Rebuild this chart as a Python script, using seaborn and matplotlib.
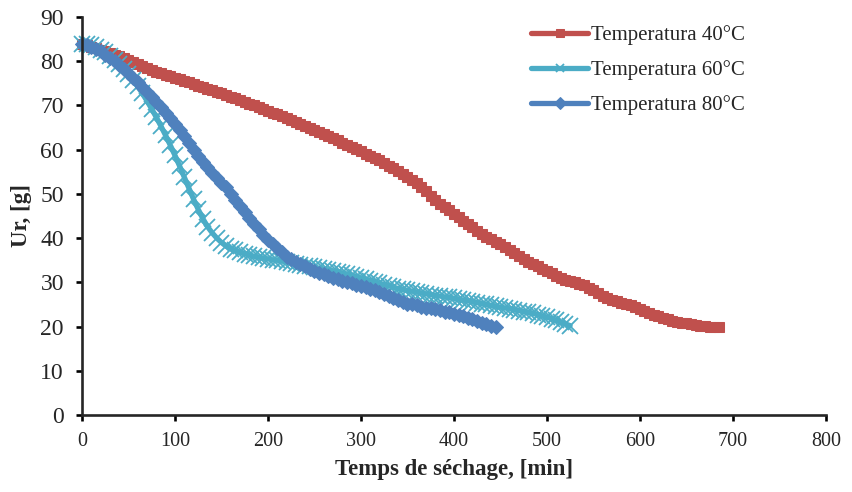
import numpy as np
import pandas as pd
import seaborn as sns
import matplotlib
matplotlib.use("Agg")
import matplotlib.pyplot as plt

# mesures toutes les 5 min
# Temperatura 40°C
t40 = list(range(0, 690, 5))
u40 = [84, 83.7, 83.3, 83.0, 82.6, 82.3, 81.9, 81.5, 81.1, 80.7, 80.3, 79.8, 79.3, 78.9, 78.4, 78.0, 77.6, 77.3, 76.9, 76.6,
       76.2, 75.9, 75.5, 75.2, 74.8, 74.5, 74.1, 73.8, 73.4, 73.1, 72.7, 72.3, 71.9, 71.6, 71.2, 70.8, 70.4, 70.0, 69.6, 69.2,
       68.8, 68.4, 68.0, 67.6, 67.2, 66.8, 66.3, 65.9, 65.4, 65.0, 64.5, 64.1, 63.6, 63.1, 62.6, 62.1, 61.6, 61.1, 60.6, 60.1,
       59.6, 59.1, 58.6, 58.1, 57.6, 57.0, 56.4, 55.8, 55.2, 54.6, 53.9, 53.2, 52.5, 51.6, 50.6, 49.6, 48.6, 47.8, 47.1, 46.3,
       45.5, 44.7, 43.9, 43.1, 42.4, 41.7, 41.0, 40.3, 39.7, 39.2, 38.6, 37.9, 37.3, 36.6, 36.0, 35.3, 34.6, 34.1, 33.6, 33.1,
       32.6, 32.0, 31.4, 31.0, 30.6, 30.4, 30.1, 29.7, 29.3, 28.8, 28.3, 27.6, 27.0, 26.5, 26.0, 25.7, 25.4, 25.1, 24.8, 24.4,
       24.0, 23.5, 23.1, 22.7, 22.3, 21.9, 21.6, 21.3, 21.1, 20.9, 20.7, 20.5, 20.4, 20.2, 20.1, 20.0, 20.0, 20.0]

# Temperatura 60°C
t60 = list(range(0, 530, 5))
u60 = [84, 83.9, 83.6, 83.2, 82.6, 82.0, 81.2, 80.3, 79.3, 78.2, 77.0, 75.7, 74.3, 72.7, 71.0, 69.2, 67.3, 65.3, 63.2, 61.0,
       58.7, 56.3, 53.8, 51.3, 48.8, 46.5, 44.4, 42.6, 41.2, 40.0, 39.0, 38.2, 37.6, 37.2, 36.8, 36.5, 36.2, 35.9, 35.7, 35.5,
       35.3, 35.1, 35.0, 34.8, 34.6, 34.4, 34.2, 34.0, 33.8, 33.6, 33.4, 33.2, 33.0, 32.8, 32.6, 32.4, 32.1, 31.9, 31.6, 31.3,
       31.0, 30.7, 30.4, 30.1, 29.8, 29.5, 29.2, 28.9, 28.6, 28.4, 28.2, 28.0, 27.8, 27.6, 27.4, 27.2, 27.0, 26.9, 26.7, 26.6,
       26.4, 26.2, 26.0, 25.8, 25.6, 25.4, 25.2, 25.0, 24.8, 24.6, 24.4, 24.2, 24.0, 23.8, 23.6, 23.4, 23.2, 23.0, 22.7, 22.4,
       22.1, 21.8, 21.4, 21.0, 20.6, 20.2]

# Temperatura 80°C
t80 = list(range(0, 450, 5))
u80 = [84, 83.7, 83.3, 82.8, 82.2, 81.5, 80.8, 80.0, 79.2, 78.3, 77.3, 76.3, 75.2, 74.1, 73.0, 71.9, 70.7, 69.6, 68.4, 67.2,
       65.9, 64.5, 63.0, 61.5, 60.0, 58.6, 57.2, 56.0, 54.8, 53.6, 52.5, 51.5, 50.0, 48.6, 47.2, 45.8, 44.5, 43.2, 42.0, 40.7,
       39.5, 38.6, 37.8, 36.8, 35.8, 35.2, 34.6, 34.1, 33.6, 33.1, 32.6, 32.2, 31.8, 31.4, 31.0, 30.7, 30.4, 30.1, 29.8, 29.5,
       29.2, 28.9, 28.5, 28.2, 27.8, 27.4, 27.0, 26.5, 26.0, 25.6, 25.2, 25.0, 24.8, 24.5, 24.3, 24.1, 23.9, 23.7, 23.4, 23.2,
       22.9, 22.6, 22.3, 22.0, 21.6, 21.3, 20.9, 20.5, 20.2, 20.0]

labels = ["Temperatura 40°C", "Temperatura 60°C", "Temperatura 80°C"]
colors = ["#C0504D", "#4BACC6", "#4F81BD"]

sns.set_style("ticks")
plt.rcParams['font.family'] = ['Liberation Serif', 'DejaVu Serif']

fig = plt.figure(figsize=(8.53, 4.92), dpi=100)
ax = fig.add_axes([0.0961, 0.1565, 0.872, 0.809])

sns.lineplot(x=t40, y=u40, ax=ax, color=colors[0], lw=3.8, marker='s', markersize=7,
             markeredgecolor=colors[0], label=labels[0], clip_on=False)
sns.lineplot(x=t60, y=u60, ax=ax, color=colors[1], lw=3.8, marker='x', markersize=11,
             markeredgewidth=1.3, markeredgecolor=colors[1], label=labels[1], clip_on=False)
sns.lineplot(x=t80, y=u80, ax=ax, color=colors[2], lw=3.8, marker='D', markersize=7.5,
             markeredgecolor=colors[2], label=labels[2], clip_on=False)

ax.set_xlim(0, 800)
ax.set_ylim(0, 90)
ax.set_xticks(np.arange(0, 801, 100))
ax.set_yticks(np.arange(0, 91, 10))
sns.despine(ax=ax)
for s in ['left', 'bottom']:
    ax.spines[s].set_linewidth(1.9)
ax.tick_params(axis='both', direction='out', length=4, width=1.9, color='black')
ax.tick_params(axis='y', labelsize=17, pad=9)
ax.tick_params(axis='x', labelsize=14.5, pad=8)

ax.set_xlabel("Temps de séchage, [min]", fontsize=16.5, fontweight='bold', labelpad=6)
ax.set_ylabel("Ur, [g]", fontsize=16.5, fontweight='bold', labelpad=6)

leg = ax.legend(loc='upper left', bbox_to_anchor=(0.593, 1.0), frameon=False, fontsize=15,
                handlelength=2.7, handletextpad=0.15, labelspacing=0.72, borderaxespad=0)
for h in leg.legend_handles:
    h.set_markersize(6)

fig.savefig("out.png", dpi=100)
